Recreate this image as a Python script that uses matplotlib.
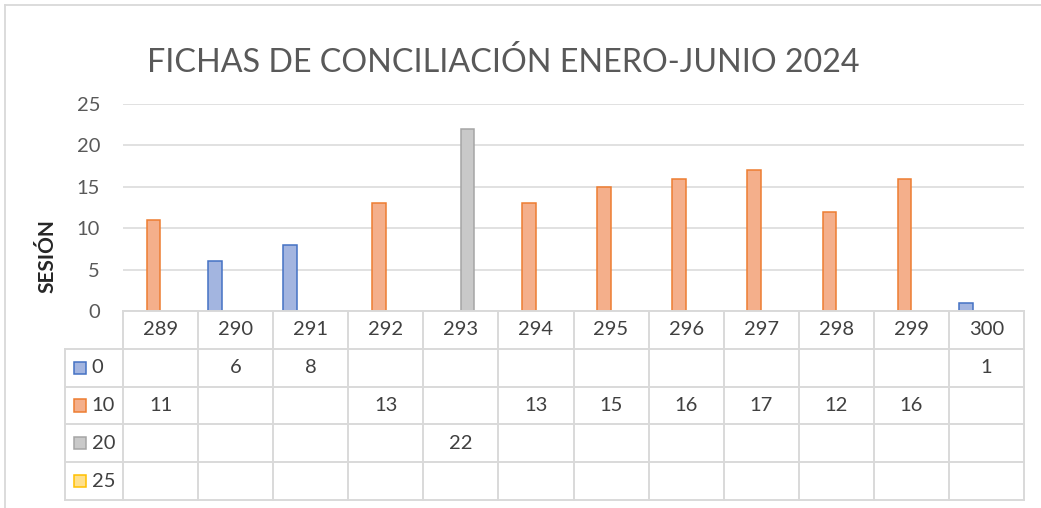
import matplotlib.pyplot as plt
from matplotlib.patches import Rectangle
from matplotlib.lines import Line2D

# datos
sesiones = ["289", "290", "291", "292", "293", "294", "295", "296", "297", "298", "299", "300"]
serie_0 = [None, 6, 8, None, None, None, None, None, None, None, None, 1]
serie_10 = [11, None, None, 13, None, 13, 15, 16, 17, 12, 16, None]
serie_20 = [None, None, None, None, 22, None, None, None, None, None, None, None]
serie_25 = [None] * 12
nombres = ["0", "10", "20", "25"]
titulo = "FICHAS DE CONCILIACIÓN ENERO-JUNIO 2024"

series = [serie_0, serie_10, serie_20, serie_25]
rellenos = ["#A3B5E0", "#F4AF8B", "#C9C9C9", "#FFE08C"]
bordes = ["#4472C4", "#ED7D31", "#A5A5A5", "#FFC000"]

W, H = 1041, 508
fig = plt.figure(figsize=(W / 100, H / 100), dpi=100)
plt.rcParams['font.family'] = ['Lato', 'DejaVu Sans']

def px(x0, y0, x1, y1):
    return [x0 / W, 1 - y1 / H, (x1 - x0) / W, (y1 - y0) / H]

ax = fig.add_axes(px(123, 104, 1024, 311))
n = len(sesiones)
ancho = 0.181
for i, s in enumerate(series):
    off = -0.5 + (1.25 + i) * ancho
    xs = [k + off for k in range(n) if s[k] is not None]
    ys = [v for v in s if v is not None]
    ax.bar(xs, ys, width=ancho, color=rellenos[i], edgecolor=bordes[i], linewidth=1.1, zorder=3)

ax.set_xlim(-0.5, n - 0.5)
ax.set_ylim(0, 25)
ax.set_yticks(range(0, 26, 5))
ax.set_xticks([])
ax.grid(axis='y', color="#D9D9D9", linewidth=1.1, zorder=0)
for sp in ax.spines.values():
    sp.set_visible(False)
ax.tick_params(axis='y', length=0, pad=16.5, labelsize=14.5, labelcolor="#595959")

# tabla de datos
izq = -0.5 - (123 - 65) / 75.08
tb = fig.add_axes(px(65, 311, 1024, 500))
tb.set_xlim(izq, n - 0.5)
tb.set_ylim(5, 0)
tb.axis('off')
gris = "#D9D9D9"
lw = 1.4
fs = 14.5
tb.plot([-0.5, n - 0.5], [0, 0], color=gris, lw=lw, clip_on=False)
for r in range(1, 6):
    tb.plot([izq, n - 0.5], [r, r], color=gris, lw=lw, clip_on=False)
tb.plot([izq, izq], [1, 5], color=gris, lw=lw, clip_on=False)
for k in range(n + 1):
    tb.plot([k - 0.5, k - 0.5], [0, 5], color=gris, lw=lw, clip_on=False)

for k, lab in enumerate(sesiones):
    tb.text(k, 0.5, lab, ha='center', va='center', fontsize=fs, color="#404040")

for i, s in enumerate(series):
    y = i + 1.5
    tb.add_patch(Rectangle((izq + 9 / 75.08, y - 0.16), 0.16, 0.32,
                           facecolor=rellenos[i], edgecolor=bordes[i], lw=1.1, clip_on=False))
    tb.text(izq + 26.5 / 75.08, y, nombres[i], ha='left', va='center', fontsize=fs, color="#404040")
    for k, v in enumerate(s):
        if v is not None:
            tb.text(k, y, str(v), ha='center', va='center', fontsize=fs, color="#404040")

# titulo y etiqueta
fig.text(503 / W, 1 - 62 / H, titulo, ha='center', va='center', fontsize=23.2, color="#595959")
fig.text(47 / W, 1 - 256 / H, "SESIÓN", ha='center', va='center', rotation=90,
         fontsize=15, fontweight='bold', color="#262626")

# borde del grafico
fig.add_artist(Line2D([5 / W, 5 / W], [0, 1 - 5 / H], color=gris, lw=1.3))
fig.add_artist(Line2D([5 / W, 1], [1 - 5 / H, 1 - 5 / H], color=gris, lw=1.3))

fig.savefig("out.png", dpi=100)
